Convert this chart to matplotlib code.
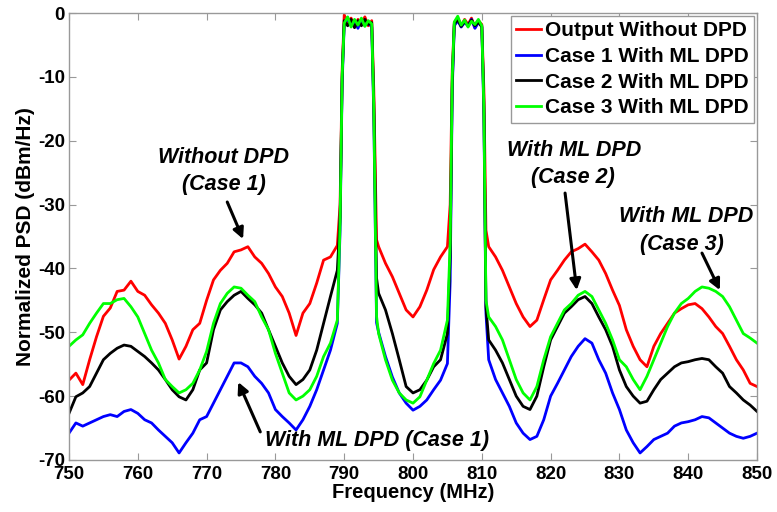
import matplotlib
matplotlib.use("Agg")
import matplotlib.pyplot as plt
from matplotlib import font_manager

# frequency grid (MHz): 1 MHz steps in the skirts, finer steps across the two carriers
freq_left = list(range(750, 790))
freq_band1 = [789.4, 789.7, 790.0, 790.5, 791.0, 791.5, 792.0, 792.5, 793.0, 793.5, 794.0, 794.3, 794.7]
freq_mid = list(range(795, 806))
freq_band2 = [805.4, 805.7, 806.0, 806.5, 807.0, 807.5, 808.0, 808.5, 809.0, 809.5, 810.0, 810.3, 810.6]
freq_right = list(range(811, 851))
freq = freq_left + freq_band1 + freq_mid + freq_band2 + freq_right

# Output without DPD (red)
psd_no_dpd = [
    -57.5, -56.4, -58.2, -54.3, -50.7, -47.5, -46.2, -43.6, -43.4, -42.0,
    -43.6, -44.2, -45.7, -47.0, -48.6, -51.2, -54.2, -52.2, -49.6, -48.6,
    -45.0, -41.8, -40.3, -39.2, -37.4, -37.1, -36.6, -38.2, -39.2, -40.8,
    -42.9, -44.4, -47.0, -50.5, -47.0, -45.5, -42.3, -38.7, -38.2, -36.4,
    -30.0, -9.0, -0.3, -1.5, -0.8, -2.2, -1.0, -1.8, -0.6, -2.0, -1.2, -12.0, -35.5,
    -36.6, -39.2, -41.3, -43.9, -46.5, -47.6, -46.0, -43.4, -40.2, -38.2, -36.6,
    -30.0, -9.0, -1.5, -0.8, -2.0, -1.0, -1.8, -0.8, -2.3, -1.2, -1.8, -12.0, -34.0,
    -36.6, -38.2, -40.3, -42.9, -45.5, -47.6, -49.1, -48.1, -44.9, -41.8,
    -40.3, -38.7, -37.4, -36.9, -36.2, -37.4, -38.7, -40.8, -43.4, -45.8,
    -49.6, -52.2, -54.3, -55.4, -52.2, -50.2, -48.6, -47.0, -46.3, -45.7,
    -45.5, -46.3, -47.6, -49.1, -50.2, -52.2, -54.3, -55.9, -58.0, -58.5,
]

# Case 1 with ML DPD (blue)
psd_case1 = [
    -65.8, -64.2, -64.7, -64.2, -63.7, -63.2, -62.9, -63.2, -62.4, -62.1,
    -62.7, -63.7, -64.2, -65.3, -66.3, -67.3, -68.9, -67.3, -65.8, -63.7,
    -63.2, -61.1, -59.0, -56.9, -54.8, -54.8, -55.4, -56.9, -58.0, -59.5,
    -62.1, -63.2, -64.2, -65.3, -63.7, -61.6, -59.0, -55.9, -52.8, -48.6,
    -34.0, -11.0, -1.8, -0.9, -2.0, -1.3, -2.4, -1.0, -2.0, -1.5, -2.2, -16.0, -48.5,
    -50.0, -53.8, -57.0, -59.5, -61.1, -62.2, -61.6, -60.6, -59.0, -57.5, -54.9,
    -42.0, -12.0, -2.0, -1.2, -2.2, -1.5, -2.0, -1.0, -2.4, -1.5, -2.0, -16.0, -47.0,
    -54.3, -57.4, -59.5, -61.6, -64.2, -65.8, -66.8, -66.3, -63.7, -60.0,
    -58.0, -55.9, -53.8, -52.2, -51.0, -51.7, -54.3, -56.4, -59.5, -62.1,
    -65.3, -67.3, -68.9, -67.9, -66.8, -66.3, -65.8, -64.7, -64.2, -64.0,
    -63.7, -63.2, -63.4, -64.2, -65.0, -65.8, -66.3, -66.6, -66.3, -65.8,
]

# Case 2 with ML DPD (black)
psd_case2 = [
    -62.7, -60.1, -59.5, -58.5, -56.4, -54.3, -53.3, -52.5, -52.0, -52.2,
    -53.0, -53.8, -54.8, -55.9, -57.4, -59.0, -60.1, -60.6, -59.0, -55.9,
    -54.8, -49.6, -46.5, -45.2, -44.2, -43.6, -44.7, -45.7, -47.0, -49.6,
    -52.2, -54.8, -56.9, -58.2, -57.4, -55.9, -52.8, -48.6, -44.4, -40.3,
    -32.0, -10.0, -1.2, -2.0, -1.0, -2.3, -1.2, -2.0, -1.0, -1.8, -1.5, -14.0, -41.5,
    -43.9, -46.5, -50.2, -54.3, -58.5, -59.5, -59.0, -57.5, -55.4, -54.3, -50.2,
    -38.0, -11.0, -1.7, -1.0, -2.1, -1.3, -2.0, -1.1, -2.0, -1.4, -2.2, -14.0, -46.0,
    -51.2, -52.8, -54.8, -57.4, -60.0, -61.6, -62.1, -60.0, -55.4, -51.2,
    -49.1, -47.0, -46.0, -44.9, -44.4, -45.5, -47.6, -49.6, -52.2, -55.9,
    -58.5, -60.0, -61.1, -60.8, -59.0, -57.4, -56.4, -55.4, -54.8, -54.6,
    -54.3, -54.1, -54.3, -55.4, -56.4, -58.5, -59.5, -60.6, -61.4, -62.4,
]

# Case 3 with ML DPD (green)
psd_case3 = [
    -52.2, -51.2, -50.4, -48.6, -47.0, -45.5, -45.5, -44.9, -44.7, -46.0,
    -47.6, -50.2, -52.8, -54.8, -57.4, -58.5, -59.5, -59.0, -58.0, -55.9,
    -53.0, -48.6, -45.5, -43.9, -42.9, -43.1, -44.2, -45.2, -47.6, -49.6,
    -53.3, -56.4, -59.5, -60.6, -60.0, -59.0, -56.9, -53.8, -51.7, -48.1,
    -33.0, -10.0, -1.6, -0.6, -2.2, -1.0, -1.9, -0.8, -2.1, -1.2, -1.7, -15.0, -47.5,
    -50.2, -54.3, -57.5, -59.5, -60.6, -61.1, -60.1, -57.5, -54.9, -52.8, -48.1,
    -36.0, -10.0, -1.4, -0.5, -1.9, -1.1, -2.2, -1.3, -1.8, -1.0, -2.0, -15.0, -45.0,
    -47.6, -49.1, -51.2, -54.3, -57.4, -59.5, -60.6, -58.5, -54.3, -50.7,
    -48.6, -46.5, -45.5, -44.2, -43.6, -44.4, -46.5, -48.6, -51.2, -54.3,
    -55.4, -57.4, -59.0, -56.9, -54.3, -51.7, -49.1, -47.0, -45.5, -44.7,
    -43.6, -42.9, -43.1, -43.6, -44.4, -46.0, -48.1, -50.2, -50.9, -51.7,
]

labels = ["Output Without DPD", "Case 1 With ML DPD", "Case 2 With ML DPD", "Case 3 With ML DPD"]
colors = ["#ff0000", "#0000ff", "#000000", "#00ff00"]
xticks = [750, 760, 770, 780, 790, 800, 810, 820, 830, 840, 850]
yticks = [0, -10, -20, -30, -40, -50, -60, -70]


def pick_font(names):
    for name in names:
        try:
            font_manager.findfont(name, fallback_to_default=False)
            return name
        except Exception:
            pass
    return "DejaVu Sans"


main_font = pick_font(["Liberation Sans", "Arial"])
narrow_font = pick_font(["Liberation Sans Narrow", "Arial Narrow", "Liberation Sans"])
plt.rcParams["font.family"] = main_font
plt.rcParams["font.weight"] = "bold"

fig = plt.figure(figsize=(7.77, 5.12), dpi=100)
ax = fig.add_axes([0.0888, 0.1016, 0.8855, 0.873])

for series, lab, col in zip([psd_no_dpd, psd_case1, psd_case2, psd_case3], labels, colors):
    ax.plot(freq, series, color=col, lw=2.0, label=lab)

ax.set_xlim(750, 850)
ax.set_ylim(-70, 0)
ax.set_xticks(xticks)
ax.set_yticks(yticks)
ax.set_xticklabels([str(v) for v in xticks], fontfamily=narrow_font,
                   fontsize=13.5, fontweight="bold")
ax.set_yticklabels([str(v) for v in yticks], fontsize=13.5, fontweight="bold")
ax.tick_params(direction="in", length=5, color="#999999", top=True, right=True, pad=3)
ax.tick_params(axis="x", pad=4)
for sp in ax.spines.values():
    sp.set_color("#999999")
    sp.set_linewidth(1.0)

ax.set_xlabel("Frequency (MHz)", fontfamily=narrow_font, fontsize=14.5,
              fontweight="bold", labelpad=0)
ax.set_ylabel("Normalized PSD (dBm/Hz)", fontsize=15, fontweight="bold", labelpad=2)

leg = ax.legend(loc="upper right", handlelength=1.2, handletextpad=0.2,
                borderaxespad=0.15, borderpad=0.25, labelspacing=0.32,
                fancybox=False, framealpha=1, prop={"weight": "bold", "size": 15})
leg.get_frame().set_edgecolor("#999999")
leg.get_frame().set_linewidth(1.0)

arrow = dict(arrowstyle="-|>", color="black", lw=2.2, mutation_scale=16, shrinkA=0, shrinkB=0)
txt = dict(fontsize=15.5, fontweight="bold", fontstyle="italic", ha="center", va="center")

ax.text(772.5, -22.6, "Without DPD", **txt)
ax.text(772.5, -26.9, "(Case 1)", **txt)
ax.annotate("", xy=(775.3, -35.4), xytext=(773.0, -29.6), arrowprops=arrow)

ax.text(794.8, -67.0, "With ML DPD (Case 1)", **txt)
ax.annotate("", xy=(774.6, -57.8), xytext=(777.8, -65.6), arrowprops=arrow)

ax.text(823.4, -21.5, "With ML DPD", **txt)
ax.text(823.3, -25.7, "(Case 2)", **txt)
ax.annotate("", xy=(823.8, -43.4), xytext=(822.1, -28.2), arrowprops=arrow)

ax.text(839.7, -31.9, "With ML DPD", **txt)
ax.text(839.1, -36.3, "(Case 3)", **txt)
ax.annotate("", xy=(844.6, -43.4), xytext=(842.0, -37.6), arrowprops=arrow)

fig.savefig("out.png", dpi=100)
